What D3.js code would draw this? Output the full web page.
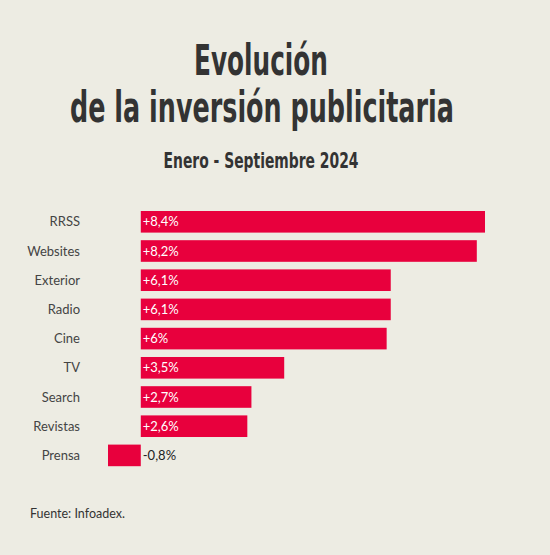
<!DOCTYPE html>
<html>
<head>
<meta charset="utf-8">
<script src="https://cdn.jsdelivr.net/npm/d3@7"></script>
<style>
  body { margin: 0; background: #edece3; }
</style>
</head>
<body>
<div id="chart"></div>
<script>
// data
var categories = ["RRSS", "Websites", "Exterior", "Radio", "Cine", "TV", "Search", "Revistas", "Prensa"];
var values = [8.4, 8.2, 6.1, 6.1, 6.0, 3.5, 2.7, 2.6, -0.8];
var valueLabels = ["+8,4%", "+8,2%", "+6,1%", "+6,1%", "+6%", "+3,5%", "+2,7%", "+2,6%", "-0,8%"];

const width = 550, height = 555;
const barColor = "#e8003d";
const labelFont = "Lato, 'Open Sans', sans-serif";

var svg = d3.select("#chart").append("svg")
    .attr("width", width)
    .attr("height", height)
    .style("background", "#edece3")
    .style("display", "block");

// titles: condensed look by squeezing a bold face to the reference width
var titleFont = "'Liberation Sans Narrow', 'DejaVu Sans Condensed', Roboto, sans-serif";
function title(txt, cx, y, size, targetW) {
    var t = svg.append("text")
        .attr("text-anchor", "middle")
        .attr("font-family", titleFont).attr("font-weight", 700)
        .attr("font-size", size).attr("fill", "#333")
        .text(txt);
    var w = t.node().getComputedTextLength();
    t.attr("transform", "translate(" + cx + "," + y + ") scale(" + (targetW / w) + ",1)");
}
title("Evolución", 261, 75, 43, 134);
title("de la inversión publicitaria", 262, 122, 43, 384);
title("Enero - Septiembre 2024", 261, 168, 22, 195);

// scales
var xScale = d3.scaleLinear().domain([-0.8, 8.4]).range([108, 485]);
var yScale = d3.scaleBand().domain(categories).range([207.2, 470]).paddingInner(0.26).paddingOuter(0.13);

var rows = svg.append("g").selectAll("g")
    .data(categories)
    .enter()
    .append("g");

rows.append("rect")
    .attr("x", (d, i) => xScale(Math.min(0, values[i])))
    .attr("y", d => yScale(d))
    .attr("width", (d, i) => Math.abs(xScale(values[i]) - xScale(0)))
    .attr("height", yScale.bandwidth())
    .attr("fill", barColor);

// category labels
rows.append("text")
    .attr("x", 80)
    .attr("y", d => yScale(d) + yScale.bandwidth() / 2)
    .attr("dy", "0.35em")
    .attr("text-anchor", "end")
    .attr("font-family", labelFont)
    .attr("font-size", 13)
    .attr("fill", "#444")
    .text(d => d);

// value labels
rows.append("text")
    .attr("x", xScale(0) + 2)
    .attr("y", d => yScale(d) + yScale.bandwidth() / 2)
    .attr("dy", "0.35em")
    .attr("font-family", labelFont)
    .attr("font-size", 13)
    .attr("fill", (d, i) => values[i] < 0 ? "#222" : "#fff")
    .text((d, i) => valueLabels[i]);

// source
svg.append("text")
    .attr("x", 30).attr("y", 518)
    .attr("font-family", labelFont)
    .attr("font-size", 12.5)
    .attr("fill", "#333")
    .text("Fuente: Infoadex.");
</script>
</body>
</html>
